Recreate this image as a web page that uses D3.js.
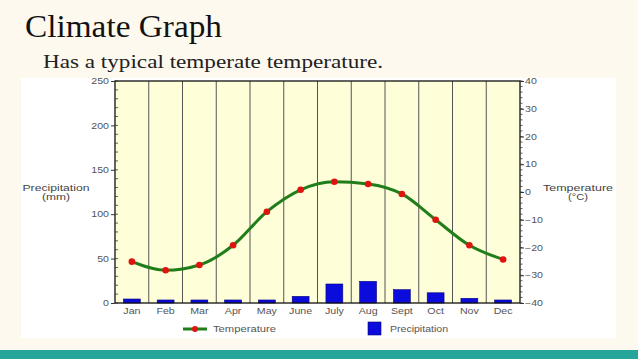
<!DOCTYPE html>
<html>
<head>
<meta charset="utf-8">
<script src="https://cdn.jsdelivr.net/npm/d3@7"></script>
<style>
  html, body { margin: 0; padding: 0; background: #fdf9ef; }
  svg { display: block; }
  .tick-label { font-family: "Liberation Sans", Arial, sans-serif; font-size: 8.5px; fill: #555; }
</style>
</head>
<body>
<svg id="chart" width="638" height="359"></svg>
<script>
// Data
const months = ["Jan", "Feb", "Mar", "Apr", "May", "June", "July", "Aug", "Sept", "Oct", "Nov", "Dec"];
const temperature = [-25.1, -28.2, -26.3, -19.2, -7.1, 0.8, 3.7, 2.9, -0.7, -10, -19.2, -24.3];
const precipitation = [4.5, 3.4, 3.4, 3.4, 3.4, 7.5, 21.4, 24.4, 15, 11.5, 5.3, 3.4];
const precipTicks = [0, 50, 100, 150, 200, 250];
const tempTicks = [-40, -30, -20, -10, 0, 10, 20, 30, 40];

const svg = d3.select("#chart");

// the source image has its labels a bit wider than normal, stretch them
function stretch(sel, k) {
    sel.each(function() {
        const w = this.getComputedTextLength();
        d3.select(this).attr("textLength", w * k).attr("lengthAdjust", "spacingAndGlyphs");
    });
}

// Slide title
svg.append("text")
    .attr("x", 25).attr("y", 37)
    .style("font-family", "'Liberation Serif', serif")
    .style("font-size", "31px")
    .attr("fill", "#111")
    .attr("textLength", 197).attr("lengthAdjust", "spacingAndGlyphs")
    .text("Climate Graph");

svg.append("text")
    .attr("x", 43).attr("y", 68)
    .style("font-family", "'Liberation Serif', serif")
    .style("font-size", "19.5px")
    .attr("fill", "#222")
    .attr("textLength", 340).attr("lengthAdjust", "spacingAndGlyphs")
    .text("Has a typical temperate temperature.");

// White image panel
svg.append("rect")
    .attr("x", 21).attr("y", 78)
    .attr("width", 595).attr("height", 260)
    .attr("fill", "#fff");

// Teal footer strip
svg.append("rect")
    .attr("x", 0).attr("y", 350)
    .attr("width", 638).attr("height", 9)
    .attr("fill", "#26a69a");

const plot = {left: 115, right: 520, top: 81, bottom: 303};

const x = d3.scaleBand()
    .domain(months)
    .range([plot.left, plot.right])
    .padding(0);

const yP = d3.scaleLinear().domain([0, 250]).range([plot.bottom, plot.top]);
const yT = d3.scaleLinear().domain([-40, 40]).range([plot.bottom, plot.top]);

// Plot background
svg.append("rect")
    .attr("x", plot.left).attr("y", plot.top)
    .attr("width", plot.right - plot.left).attr("height", plot.bottom - plot.top)
    .attr("fill", "#fefed9");

// Month divider lines
svg.append("g")
    .selectAll("line")
    .data(months.slice(1))
    .join("line")
    .attr("x1", d => x(d)).attr("x2", d => x(d))
    .attr("y1", plot.top).attr("y2", plot.bottom)
    .attr("stroke", "#555")
    .attr("stroke-width", 1);

// Precipitation bars
const barW = x.bandwidth() * 0.5;
svg.append("g")
    .selectAll("rect")
    .data(precipitation)
    .join("rect")
    .attr("x", (d, i) => x(months[i]) + (x.bandwidth() - barW) / 2)
    .attr("y", d => yP(d))
    .attr("width", barW)
    .attr("height", d => plot.bottom - yP(d))
    .attr("fill", "#0b0bdc")
    .attr("stroke", "#05057a")
    .attr("stroke-width", 0.6);

// Temperature line
const line = d3.line()
    .x((d, i) => x(months[i]) + x.bandwidth() / 2)
    .y(d => yT(d))
    .curve(d3.curveMonotoneX);

svg.append("path")
    .datum(temperature)
    .attr("d", line)
    .attr("fill", "none")
    .attr("stroke", "#1f7d1a")
    .attr("stroke-width", 3);

svg.append("g")
    .selectAll("circle")
    .data(temperature)
    .join("circle")
    .attr("cx", (d, i) => x(months[i]) + x.bandwidth() / 2)
    .attr("cy", d => yT(d))
    .attr("r", 3.3)
    .attr("fill", "#e0140f");

// Plot frame
svg.append("rect")
    .attr("x", plot.left).attr("y", plot.top)
    .attr("width", plot.right - plot.left).attr("height", plot.bottom - plot.top)
    .attr("fill", "none")
    .attr("stroke", "#111")
    .attr("stroke-width", 1.3);

const styleLabels = g => g.selectAll("text")
    .attr("class", "tick-label").attr("fill", null)
    .style("font-size", null).style("font-family", null);

// Left axis: major ticks outside, minor inside
const leftAxis = svg.append("g").attr("transform", `translate(${plot.left},0)`);
leftAxis.call(d3.axisLeft(yP).tickValues(precipTicks).tickSize(4).tickPadding(2))
    .call(g => g.select(".domain").remove())
    .call(styleLabels)
    .call(g => g.selectAll("line").attr("stroke", "#333"));
leftAxis.selectAll(".minor")
    .data(d3.range(0, 251, 10))
    .join("line")
    .attr("class", "minor")
    .attr("x1", 0).attr("x2", 3)
    .attr("y1", d => yP(d)).attr("y2", d => yP(d))
    .attr("stroke", "#333").attr("stroke-width", 0.8);

// Right axis
const rightAxis = svg.append("g").attr("transform", `translate(${plot.right},0)`);
rightAxis.call(d3.axisRight(yT).tickValues(tempTicks).tickSize(4).tickPadding(1))
    .call(g => g.select(".domain").remove())
    .call(styleLabels)
    .call(g => g.selectAll("line").attr("stroke", "#333"));
rightAxis.selectAll(".minor")
    .data(d3.range(-40, 41, 2))
    .join("line")
    .attr("class", "minor")
    .attr("x1", 0).attr("x2", 2.5)
    .attr("y1", d => yT(d)).attr("y2", d => yT(d))
    .attr("stroke", "#333").attr("stroke-width", 0.8);

// Month labels
svg.append("g").attr("transform", `translate(0,${plot.bottom})`)
    .call(d3.axisBottom(x).tickSize(0).tickPadding(5))
    .call(g => g.select(".domain").remove())
    .call(styleLabels);

stretch(svg.selectAll(".tick-label"), 1.25);

// Axis titles
const axisTitle = (cx, lines) => {
    const t = svg.append("text")
        .attr("text-anchor", "middle")
        .style("font-family", "'Liberation Sans', Arial, sans-serif")
        .style("font-size", "9px")
        .attr("fill", "#444");
    lines.forEach((s, i) => {
        t.append("tspan").attr("x", cx).attr("y", 191 + i * 9)
            .attr("textLength", s[1]).attr("lengthAdjust", "spacingAndGlyphs")
            .text(s[0]);
    });
};
axisTitle(56, [["Precipitation", 67], ["(mm)", 28]]);
axisTitle(578, [["Temperature", 70], ["(°C)", 20]]);

// Legend
const legend = svg.append("g");
legend.append("line")
    .attr("x1", 183).attr("x2", 207).attr("y1", 329).attr("y2", 329)
    .attr("stroke", "#1f7d1a").attr("stroke-width", 3);
legend.append("circle")
    .attr("cx", 195).attr("cy", 329).attr("r", 3)
    .attr("fill", "#e0140f");
legend.append("text")
    .attr("x", 213).attr("y", 332)
    .attr("class", "tick-label")
    .attr("textLength", 63).attr("lengthAdjust", "spacingAndGlyphs")
    .text("Temperature");
legend.append("rect")
    .attr("x", 368).attr("y", 322).attr("width", 13).attr("height", 13)
    .attr("fill", "#0b0bdc").attr("stroke", "#05057a").attr("stroke-width", 0.6);
legend.append("text")
    .attr("x", 390).attr("y", 332)
    .attr("class", "tick-label")
    .attr("textLength", 58).attr("lengthAdjust", "spacingAndGlyphs")
    .text("Precipitation");
</script>
</body>
</html>
